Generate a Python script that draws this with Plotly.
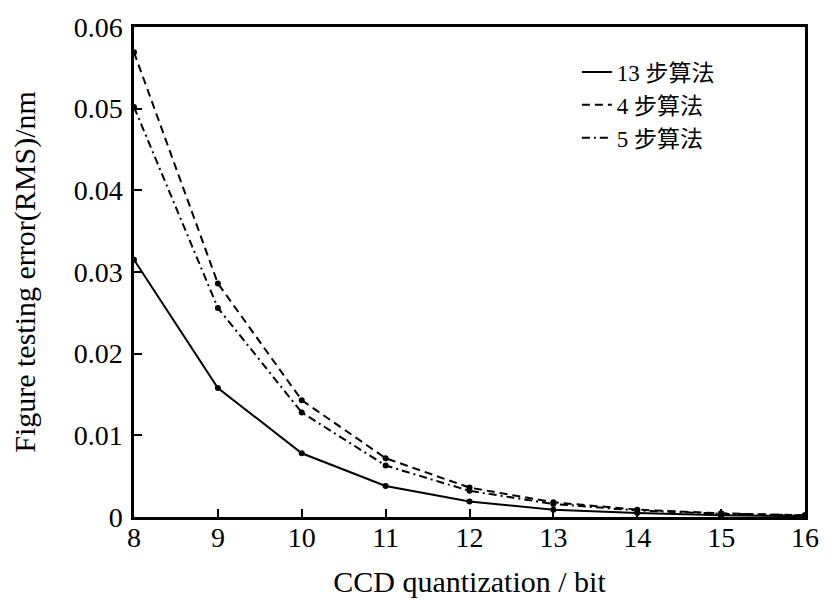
import plotly.graph_objects as go

bits = [8, 9, 10, 11, 12, 13, 14, 15, 16]
err_13step = [0.0315, 0.0158, 0.0078, 0.0038, 0.0019, 0.0009, 0.0005, 0.0002, 0.0001]
err_4step = [0.0569, 0.0286, 0.0143, 0.0072, 0.0036, 0.0018, 0.0009, 0.00045, 0.0002]
err_5step = [0.0502, 0.0256, 0.0128, 0.0063, 0.0032, 0.0016, 0.0008, 0.0004, 0.0002]
names = ["13 步算法", "4 步算法", "5 步算法"]
x_ticks = [8, 9, 10, 11, 12, 13, 14, 15, 16]
y_ticks = [0, 0.01, 0.02, 0.03, 0.04, 0.05, 0.06]
y_ticktext = ["0", "0.01", "0.02", "0.03", "0.04", "0.05", "0.06"]

font_fam = "Liberation Serif, Noto Sans CJK SC, serif"
dashes = ["solid", "8px,5px", "8px,4px,2px,4px"]

fig = go.Figure()
for name, ys, dash in zip(names, [err_13step, err_4step, err_5step], dashes):
    fig.add_trace(go.Scatter(
        x=bits, y=ys, name=name, mode="lines+markers", showlegend=False,
        line=dict(color="black", width=2, dash=dash),
        marker=dict(color="black", size=6),
    ))
# legend-only entries (line samples without markers)
for name, dash in zip(names, dashes):
    fig.add_trace(go.Scatter(
        x=[None], y=[None], name=name, mode="lines", showlegend=True,
        line=dict(color="black", width=2, dash=dash),
    ))

fig.update_layout(
    width=837, height=609,
    margin=dict(l=134, r=32, t=23, b=92),
    paper_bgcolor="white", plot_bgcolor="white",
    font=dict(family=font_fam, size=26, color="black"),
    showlegend=True,
    legend=dict(x=0.66, y=0.952, xanchor="left", yanchor="top",
                bgcolor="rgba(0,0,0,0)", font=dict(size=23, family=font_fam),
                itemwidth=30, tracegroupgap=0),
    xaxis=dict(range=[8, 16], tickvals=x_ticks, ticks="inside", ticklen=8,
               tickwidth=2, tickcolor="black", showline=True, linecolor="black",
               linewidth=2.5, mirror=True, showgrid=False, zeroline=False,
               tickfont=dict(size=28), ticklabelstandoff=-6,
               title=dict(text="CCD quantization / bit", font=dict(size=30), standoff=19)),
    yaxis=dict(range=[0, 0.06], tickvals=y_ticks, ticktext=y_ticktext, ticks="inside",
               ticklen=8, tickwidth=2, tickcolor="black", showline=True,
               linecolor="black", linewidth=2.5, mirror=True, showgrid=False,
               zeroline=False, tickfont=dict(size=28), ticklabelstandoff=3,
               title=dict(text="Figure testing error(RMS)/nm", font=dict(size=30), standoff=30)),
)

fig.write_html("out.html", config={"displayModeBar": False},
               post_script="document.body.style.margin='0px';")
